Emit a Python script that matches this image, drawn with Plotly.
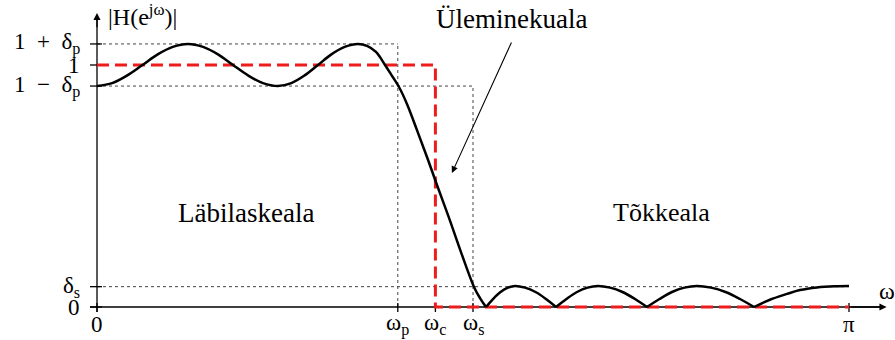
import plotly.graph_objects as go

# ---- data (frequency in units of pi, magnitude) ----
omega_pi = [0, 0.0202, 0.0403, 0.0605, 0.0807, 0.1008, 0.121, 0.141, 0.1609, 0.1809,
            0.2008, 0.2207, 0.2407, 0.2584, 0.2762, 0.2939, 0.3116, 0.3294, 0.3471,
            0.3590, 0.3710, 0.3830, 0.3923, 0.4016, 0.4122, 0.4255, 0.4388, 0.4521,
            0.4681, 0.4840, 0.5013, 0.5093, 0.5173,
            0.5266, 0.5366, 0.5465, 0.5559, 0.5691, 0.5831, 0.5971, 0.6104,
            0.6243, 0.6383, 0.6523, 0.6662, 0.6822, 0.6988, 0.7154, 0.7314,
            0.7480, 0.7646, 0.7812, 0.7979, 0.8165, 0.8358, 0.8551, 0.8737,
            0.8949, 0.9176, 0.9348, 0.9574, 0.9814, 1.0]
magnitude = [0.913, 0.925, 0.957, 1.0, 1.044, 1.075, 1.087, 1.075, 1.044, 1.0,
             0.957, 0.925, 0.913, 0.925, 0.957, 1.0, 1.044, 1.075, 1.087,
             1.079, 1.054, 1.0, 0.955, 0.909, 0.839, 0.731, 0.620, 0.504,
             0.368, 0.227, 0.083, 0.037, 0.0,
             0.033, 0.062, 0.080, 0.087, 0.080, 0.062, 0.033, 0.0,
             0.033, 0.062, 0.080, 0.087, 0.080, 0.062, 0.033, 0.0,
             0.033, 0.062, 0.080, 0.087, 0.080, 0.062, 0.033, 0.0,
             0.030, 0.054, 0.070, 0.081, 0.086, 0.087]

# ideal filter / specification
w_p = 0.4
w_c = 0.45
w_s = 0.5
delta_p = 0.087
delta_s = 0.084

x_tick_vals = [0, w_p, w_c, w_s, 1.0]
x_tick_text = ["0", "ω<sub>p</sub>", "ω<sub>c</sub>", "ω<sub>s</sub>", "π"]
y_tick_vals = [0, delta_s, 1 - delta_p, 1, 1 + delta_p]
y_tick_text = ["0", "δ<sub>s</sub>", "1 \u00a0−\u00a0 δ<sub>p</sub>", "1", "1 \u00a0+\u00a0 δ<sub>p</sub>"]

region_labels = ["Läbilaskeala", "Tõkkeala", "Üleminekuala"]

# ---- figure ----
PX_X = 1 / 752.0   # one pixel in x data units
PX_Y = 1 / 242.0   # one pixel in y data units
FONT = "Liberation Serif"

fig = go.Figure()

# split curve at its zeros so the cusps stay sharp
segs = []
cur_x, cur_y = [], []
for xv, yv in zip(omega_pi, magnitude):
    cur_x.append(xv)
    cur_y.append(yv)
    if yv == 0 and len(cur_x) > 1:
        segs.append((cur_x, cur_y))
        cur_x, cur_y = [xv], [yv]
if len(cur_x) > 1:
    segs.append((cur_x, cur_y))

shapes = []
dot = dict(color="#444", width=1, dash="dot")
# dotted tolerance lines
shapes.append(dict(type="line", x0=0, x1=w_p, y0=1 + delta_p, y1=1 + delta_p, line=dot))
shapes.append(dict(type="line", x0=0, x1=w_s, y0=1 - delta_p, y1=1 - delta_p, line=dot))
shapes.append(dict(type="line", x0=w_p, x1=w_p, y0=0, y1=1 + delta_p, line=dot))
shapes.append(dict(type="line", x0=w_s, x1=w_s, y0=0, y1=1 - delta_p, line=dot))
shapes.append(dict(type="line", x0=0, x1=1.0, y0=delta_s, y1=delta_s, line=dot))

# axis lines
axis_line = dict(color="black", width=1.3)
shapes.append(dict(type="line", x0=-7 * PX_X, x1=1.045, y0=0, y1=0, line=axis_line))
shapes.append(dict(type="line", x0=0, x1=0, y0=-5 * PX_Y, y1=1.2, line=axis_line))
# ticks
for xv in x_tick_vals:
    shapes.append(dict(type="line", x0=xv, x1=xv, y0=-5 * PX_Y, y1=4 * PX_Y, line=axis_line))
for yv in y_tick_vals:
    shapes.append(dict(type="line", x0=-7 * PX_X, x1=5 * PX_X, y0=yv, y1=yv, line=axis_line))

for s in shapes:
    s.update(xref="x", yref="y", layer="below")

# ideal (red dashed) response
red = dict(color="#ee1c1c", width=3, dash="12px,6px")
fig.add_trace(go.Scatter(x=[0, w_c, w_c, 1.0], y=[1, 1, 0, 0], mode="lines",
                         line=red, hoverinfo="skip"))

for sx, sy in segs:
    fig.add_trace(go.Scatter(x=sx, y=sy, mode="lines",
                             line=dict(color="black", width=2.5, shape="spline", smoothing=1.0),
                             hoverinfo="skip"))

ann = []
# axis arrows
ann.append(dict(x=1.05, y=0, ax=1.0, ay=0, xref="x", yref="y", axref="x", ayref="y",
                showarrow=True, arrowhead=2, arrowsize=1.1, arrowwidth=1.3, text="",
                arrowcolor="black"))
ann.append(dict(x=0, y=1.215, ax=0, ay=1.15, xref="x", yref="y", axref="x", ayref="y",
                showarrow=True, arrowhead=2, arrowsize=1.1, arrowwidth=1.3, text="",
                arrowcolor="black"))
# x tick labels
for xv, t in zip(x_tick_vals, x_tick_text):
    ann.append(dict(x=xv, y=-17 * PX_Y, xref="x", yref="y", text=t, showarrow=False,
                    font=dict(family=FONT, size=23, color="black"), xanchor="center",
                    yanchor="middle"))
# y tick labels
for yv, t in zip(y_tick_vals, y_tick_text):
    ann.append(dict(x=-15 * PX_X, y=yv, xref="x", yref="y", text=t, showarrow=False,
                    font=dict(family=FONT, size=23, color="black"), xanchor="right",
                    yanchor="middle"))
# axis titles
ann.append(dict(x=9 * PX_X, y=1.205, xref="x", yref="y", text="|H(e<sup>jω</sup>)|",
                showarrow=False, font=dict(family=FONT, size=24, color="black"),
                xanchor="left", yanchor="middle"))
ann.append(dict(x=1.037, y=16 * PX_Y, xref="x", yref="y", text="ω",
                showarrow=False, font=dict(family=FONT, size=24, color="black"),
                xanchor="left", yanchor="middle"))
# region labels
ann.append(dict(x=0.198, y=0.39, xref="x", yref="y", text=region_labels[0], showarrow=False,
                font=dict(family=FONT, size=27, color="black"), xanchor="center", yanchor="middle"))
ann.append(dict(x=0.75, y=0.39, xref="x", yref="y", text=region_labels[1], showarrow=False,
                font=dict(family=FONT, size=26, color="black"), xanchor="center", yanchor="middle"))
ann.append(dict(x=0.551, y=1.19, xref="x", yref="y", text=region_labels[2], showarrow=False,
                font=dict(family=FONT, size=27, color="black"), xanchor="center", yanchor="middle"))
# arrow to transition band
ann.append(dict(x=0.472, y=0.554, ax=0.552, ay=1.099, xref="x", yref="y", axref="x", ayref="y",
                showarrow=True, arrowhead=2, arrowsize=1.2, arrowwidth=1.1, text="",
                arrowcolor="black", standoff=0))

fig.update_layout(
    width=895, height=340,
    margin=dict(l=0, r=0, t=0, b=0),
    paper_bgcolor="white", plot_bgcolor="white",
    showlegend=False,
    shapes=shapes,
    annotations=ann,
    xaxis=dict(range=[-97 / 752, 798 / 752], visible=False, fixedrange=True),
    yaxis=dict(range=[-33 / 242, 307 / 242], visible=False, fixedrange=True),
)

fig.write_html("out.html")
